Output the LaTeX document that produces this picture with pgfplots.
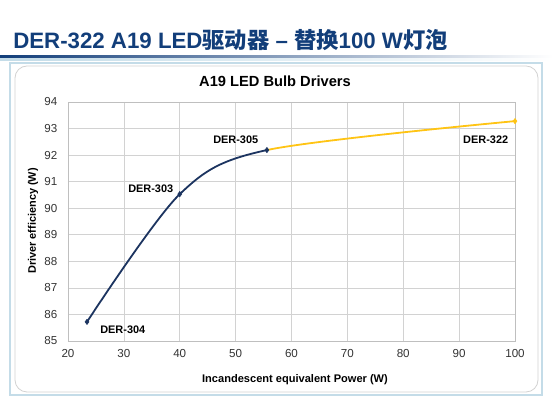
\documentclass[border=0pt]{standalone}
\usepackage{pgfplots}
\pgfplotsset{compat=1.18}
\usepackage{fontspec}
\setmainfont{Liberation Sans}
\newfontfamily\cjk{Noto Sans CJK SC}
\definecolor{navy}{RGB}{28,52,96}
\definecolor{gold}{RGB}{255,196,20}
\definecolor{titleblue}{RGB}{18,62,122}
\definecolor{framebl}{RGB}{196,220,232}
\begin{document}
\begin{tikzpicture}[x=0.75pt,y=0.75pt]
\path[use as bounding box] (0,0) rectangle (553,398);
\fill[left color=titleblue, right color=white] (0,339) rectangle (553,342);
\fill[left color=framebl, right color=white] (0,337) rectangle (553,339);
\draw[color=framebl, line width=1.5pt] (10,3) rectangle (542,335);
\draw[gray!35, rounded corners=9pt, line width=0.6pt] (15,6) rectangle (538,332);
\node[anchor=base west, text=titleblue, font=\fontsize{16.7}{18}\selectfont\bfseries, inner sep=0] at (13,349) {DER-322 A19 LED{\cjk 驱动器} – {\cjk 替换}100 W{\cjk 灯泡}};
\node[anchor=base, font=\fontsize{11}{12}\selectfont\bfseries, inner sep=0] at (275,311) {A19 LED Bulb Drivers};
\node[anchor=base, font=\fontsize{8.3}{9}\selectfont\bfseries, inner sep=0] at (295,15) {Incandescent equivalent Power (W)};
\node[rotate=90, font=\fontsize{8.2}{9}\selectfont\bfseries, inner sep=0] at (33,177) {Driver efficiency (W)};
\begin{axis}[
  at={(51pt,42.75pt)}, anchor=south west, scale only axis,
  width=335.25pt, height=179.25pt,
  xmin=20, xmax=100, ymin=85, ymax=94,
  xtick={20,30,...,100}, ytick={85,86,...,94},
  grid=major, grid style={gray!35, line width=0.5pt},
  axis line style={gray!50},
  tick style={draw=none},
  ticklabel style={font=\fontsize{8.7}{10}\selectfont, text=black!80},
  yticklabel style={xshift=-4.5pt},
  xticklabel style={yshift=-2.5pt},
  /pgf/number format/assume math mode=true,
  clip=false,
]
\begin{scope}
\clip (axis cs:55.6,85) rectangle (axis cs:100,94);
\addplot[gold, line width=1.35pt, smooth, mark=none] coordinates {(23.4,85.72) (40.0,90.53) (55.6,92.19) (100,93.28)};
\end{scope}
\begin{scope}
\clip (axis cs:20,85) rectangle (axis cs:55.6,94);
\addplot[navy, line width=1.35pt, smooth, mark=none] coordinates {(23.4,85.72) (40.0,90.53) (55.6,92.19) (100,93.28)};
\end{scope}
\addplot[only marks, mark=diamond*, mark size=2pt, navy] coordinates {(23.4,85.72) (40.0,90.53) (55.6,92.19)};
\addplot[only marks, mark=diamond*, mark size=2pt, gold] coordinates {(100,93.28)};
\node[anchor=base west, font=\fontsize{8.2}{9}\selectfont\bfseries, inner sep=0] at (axis cs:25.73,85.30) {DER-304};
\node[anchor=base west, font=\fontsize{8.2}{9}\selectfont\bfseries, inner sep=0] at (axis cs:30.74,90.61) {DER-303};
\node[anchor=base west, font=\fontsize{8.2}{9}\selectfont\bfseries, inner sep=0] at (axis cs:45.95,92.45) {DER-305};
\node[anchor=base west, font=\fontsize{8.2}{9}\selectfont\bfseries, inner sep=0] at (axis cs:90.69,92.45) {DER-322};
\end{axis}
\end{tikzpicture}
\end{document}
